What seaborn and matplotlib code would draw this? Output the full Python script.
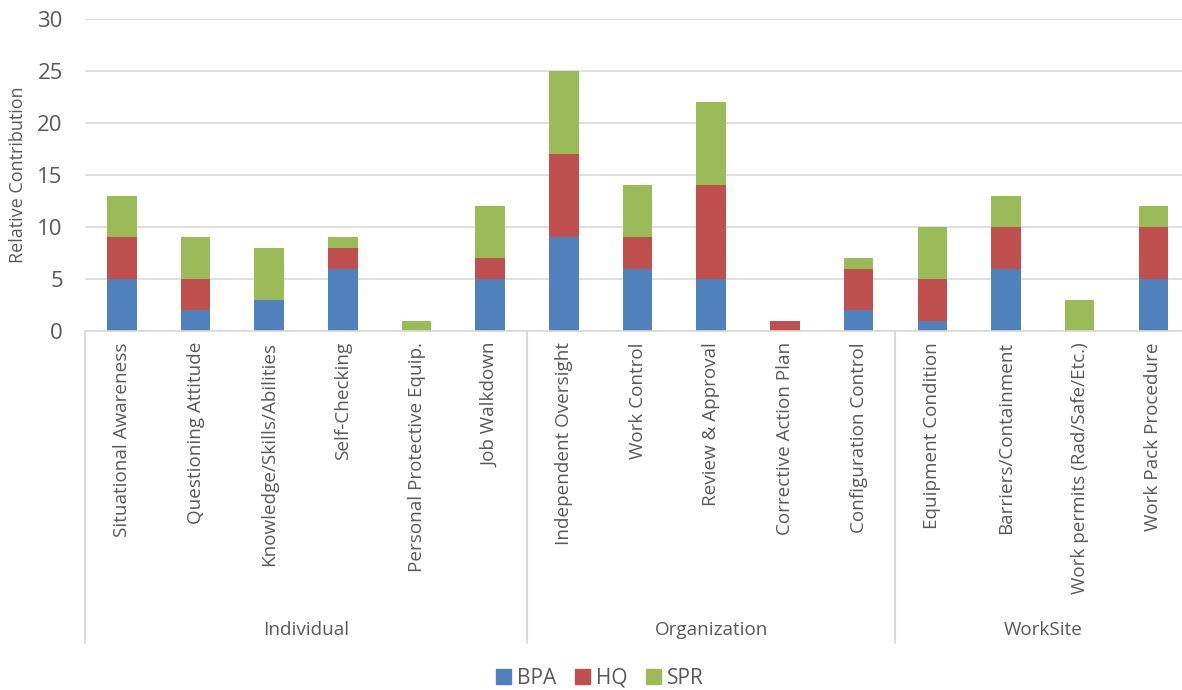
import pandas as pd
import matplotlib.pyplot as plt
import matplotlib.patches as mpatches
import seaborn as sns

factors = ["Situational Awareness", "Questioning Attitude", "Knowledge/Skills/Abilities",
           "Self-Checking", "Personal Protective Equip.", "Job Walkdown",
           "Independent Oversight", "Work Control", "Review & Approval",
           "Corrective Action Plan", "Configuration Control",
           "Equipment Condition", "Barriers/Containment",
           "Work permits (Rad/Safe/Etc.)", "Work Pack Procedure"]
groups = ["Individual", "Organization", "WorkSite"]
group_sizes = [6, 5, 4]
bpa = [5, 2, 3, 6, 0, 5, 9, 6, 5, 0, 2, 1, 6, 0, 5]
hq = [4, 3, 0, 2, 0, 2, 8, 3, 9, 1, 4, 4, 4, 0, 5]
spr = [4, 4, 5, 1, 1, 5, 8, 5, 8, 0, 1, 5, 3, 3, 2]

df = pd.DataFrame({"factor": factors, "BPA": bpa, "HQ": hq, "SPR": spr})
df["lvl2"] = df["BPA"] + df["HQ"]
df["lvl3"] = df["lvl2"] + df["SPR"]

colors = {"BPA": "#4F81BD", "HQ": "#C0504D", "SPR": "#9BBB59"}
grey = "#595959"
line_c = "#D9D9D9"

sns.set_style("white")
plt.rcParams["font.family"] = ["Open Sans", "DejaVu Sans"]

fig = plt.figure(figsize=(11.82, 6.9), dpi=100)
ax = fig.add_axes([85 / 1182, 1 - 331 / 690, 1 - 85 / 1182, 312 / 690])

# stacked bars: draw cumulative totals from the top down
for col, name in [("lvl3", "SPR"), ("lvl2", "HQ"), ("BPA", "BPA")]:
    sns.barplot(data=df, x="factor", y=col, order=factors, color=colors[name],
                width=0.4, saturation=1, ax=ax, edgecolor="none", linewidth=0)

ax.set_ylim(0, 30)
ax.set_xlim(-0.5, 14.39)
ax.set_yticks(range(0, 31, 5))
ax.yaxis.grid(True, color=line_c, linewidth=1.2)
ax.set_axisbelow(True)
for s in ["left", "right", "top"]:
    ax.spines[s].set_visible(False)
ax.spines["bottom"].set_color(line_c)
ax.spines["bottom"].set_linewidth(1.2)

ax.tick_params(axis="y", length=0, labelsize=16, labelcolor=grey, pad=16)
ax.tick_params(axis="x", length=0, labelsize=13.6, labelcolor=grey, pad=8)
ax.set_xticks(range(len(factors)))
ax.set_xticklabels(factors, rotation=90, va="top", ha="center")
ax.set_xlabel("")
ax.set_ylabel("Relative Contribution", fontsize=13, color=grey)
ax.yaxis.set_label_coords(-0.053, 0.5)

# group separators and group labels
trans = ax.get_xaxis_transform()
start = 0
for g, n in zip(groups, group_sizes):
    ax.plot([start - 0.5, start - 0.5], [0, -1.0], transform=trans, color=line_c,
            linewidth=1.5, clip_on=False)
    ax.text(start + (n - 1) / 2, -0.958, g, transform=trans, ha="center", va="center",
            fontsize=13.6, color=grey)
    start += n
ax.plot([start - 0.5, start - 0.5], [0, -1.0], transform=trans, color=line_c,
        linewidth=1.5, clip_on=False)

handles = [mpatches.Patch(color=colors[k], label=k) for k in ["BPA", "HQ", "SPR"]]
fig.legend(handles=handles, loc="center", bbox_to_anchor=(600 / 1182, 1 - 678 / 690),
           ncol=3, frameon=False, fontsize=15, handlelength=0.7, handleheight=0.7,
           handletextpad=0.3, columnspacing=0.9, labelcolor=grey)

fig.savefig("out.png", dpi=100)
